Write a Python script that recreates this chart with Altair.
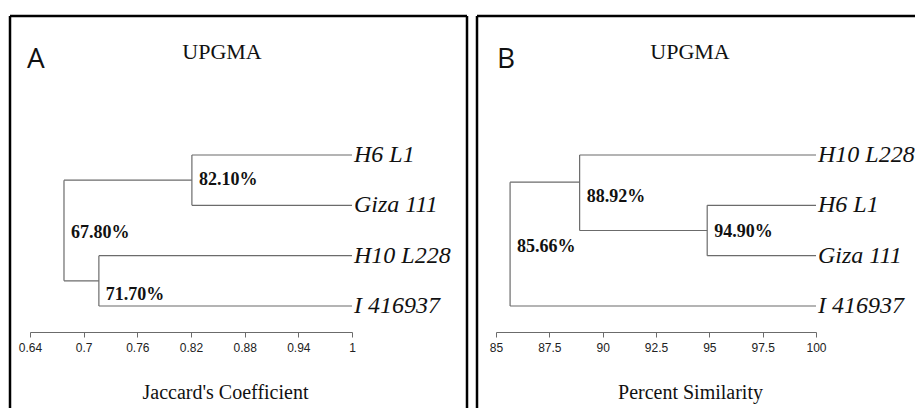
import altair as alt
import pandas as pd

# ---------------- Panel A (Jaccard's coefficient) ----------------
A_leaves = ["H6 L1", "Giza 111", "H10 L228", "I 416937"]
A_leaf_height = 1.0
A_node_height = [0.821, 0.717, 0.678]
A_node_text = ["82.10%", "71.70%", "67.80%"]
A_node_pos = [1.5, 3.5, 2.5]
A_node_children = [(("L", 0), ("L", 1)), (("L", 2), ("L", 3)), (("N", 0), ("N", 1))]
A_text_pos = [1.5, 3.78, 2.55]
A_ticks = [0.64, 0.7, 0.76, 0.82, 0.88, 0.94, 1]
A_domain = [0.64, 1]

# ---------------- Panel B (percent similarity) ----------------
B_leaves = ["H10 L228", "H6 L1", "Giza 111", "I 416937"]
B_leaf_height = 100.0
B_node_height = [94.90, 88.92, 85.66]
B_node_text = ["94.90%", "88.92%", "85.66%"]
B_node_pos = [2.5, 1.54, 2.77]
B_node_children = [(("L", 1), ("L", 2)), (("L", 0), ("N", 0)), (("N", 1), ("L", 3))]
B_text_pos = [2.53, 1.83, 2.83]
B_ticks = [85, 87.5, 90, 92.5, 95, 97.5, 100]
B_domain = [85, 100]

LINE = "#6b6b6b"


def segments(leaf_h, heights, positions, children):
    rows = []

    def info(c):
        kind, i = c
        if kind == "L":
            return leaf_h, i + 1
        return heights[i], positions[i]

    for k, (c1, c2) in enumerate(children):
        h = heights[k]
        for c in (c1, c2):
            ch, cp = info(c)
            rows.append({"x1": ch, "x2": h, "y1": cp, "y2": cp})
        p1 = info(c1)[1]
        p2 = info(c2)[1]
        rows.append({"x1": h, "x2": h, "y1": p1, "y2": p2})
    return pd.DataFrame(rows)


def panel(leaves, leaf_h, heights, texts, positions, children, text_pos,
          ticks, domain, rng, title, title_x):
    seg = segments(leaf_h, heights, positions, children)
    leaf_df = pd.DataFrame({"x1": [leaf_h] * len(leaves),
                            "y1": list(range(1, len(leaves) + 1)),
                            "name": leaves})
    node_df = pd.DataFrame({"x1": heights, "y1": text_pos, "lab": texts})

    axis = alt.Axis(values=ticks, format=".4~r", grid=False, orient="bottom",
                    domainColor=LINE, tickColor=LINE, tickSize=5,
                    labelFont="Liberation Sans", labelFontSize=12,
                    labelColor="#222", labelPadding=5, labelFlush=False,
                    labelOverlap=False, title=title,
                    titleFont="Liberation Serif", titleFontSize=20,
                    titleFontWeight="normal", titleColor="#111",
                    titleX=title_x, titleY=60, titleBaseline="middle",
                    titleAlign="center")
    xs = alt.Scale(domain=domain, range=rng, nice=False, zero=False)
    ys = alt.Scale(domain=[1, 4], range=[147, 298], nice=False, zero=False)

    rules = alt.Chart(seg).mark_rule(color=LINE, strokeWidth=1.2).encode(
        x=alt.X("x1:Q", scale=xs, axis=axis),
        x2="x2:Q",
        y=alt.Y("y1:Q", scale=ys, axis=None),
        y2="y2:Q",
    )
    leaf_txt = alt.Chart(leaf_df).mark_text(
        align="left", baseline="middle", dx=2, font="Liberation Serif",
        fontStyle="italic", fontSize=24, color="#111"
    ).encode(
        x=alt.X("x1:Q", scale=xs, axis=axis),
        y=alt.Y("y1:Q", scale=ys, axis=None),
        text="name:N",
    )
    node_txt = alt.Chart(node_df).mark_text(
        align="left", baseline="middle", dx=7, font="Liberation Serif",
        fontWeight="bold", fontSize=18, color="#111"
    ).encode(
        x=alt.X("x1:Q", scale=xs, axis=axis),
        y=alt.Y("y1:Q", scale=ys, axis=None),
        text="lab:N",
    )
    return alt.layer(rules, leaf_txt, node_txt)


pA = panel(A_leaves, A_leaf_height, A_node_height, A_node_text, A_node_pos,
           A_node_children, A_text_pos, A_ticks, A_domain, [22, 344],
           "Jaccard's Coefficient", 217)
pB = panel(B_leaves, B_leaf_height, B_node_height, B_node_text, B_node_pos,
           B_node_children, B_text_pos, B_ticks, B_domain, [488, 808],
           "Percent Similarity", 682)

one = alt.Data(values=[{"k": 1}])


def label(txt, x, y, align, font, size, weight="normal"):
    return alt.Chart(one).mark_text(
        text=txt, align=align, baseline="middle", font=font,
        fontSize=size, fontWeight=weight, color="#111"
    ).encode(x=alt.value(x), y=alt.value(y))


def line(x1, x2, y1, y2):
    return alt.Chart(one).mark_rule(color="black", strokeWidth=2.5).encode(
        x=alt.value(x1), x2=alt.value(x2), y=alt.value(y1), y2=alt.value(y2)
    )


deco = alt.layer(
    line(2, 459, 8, 8), line(2, 2, 8, 400), line(459, 459, 8, 400),
    line(469, 907, 8, 8), line(469, 469, 8, 400),
    label("A", 19, 52, "left", "Open Sans", 28),
    label("B", 489, 52, "left", "Open Sans", 28),
    label("UPGMA", 214, 44, "center", "Liberation Serif", 22),
    label("UPGMA", 682, 44, "center", "Liberation Serif", 22),
)

chart = alt.layer(pA, pB, deco).resolve_scale(x="independent").resolve_axis(
    x="independent"
).properties(
    width=907, height=324,
    autosize=alt.AutoSizeParams(type="none"),
    padding={"left": 0, "top": 0, "right": 0, "bottom": 76},
).configure_view(strokeWidth=0)

chart.save("out.html", embed_options={"renderer": "svg", "actions": False})
